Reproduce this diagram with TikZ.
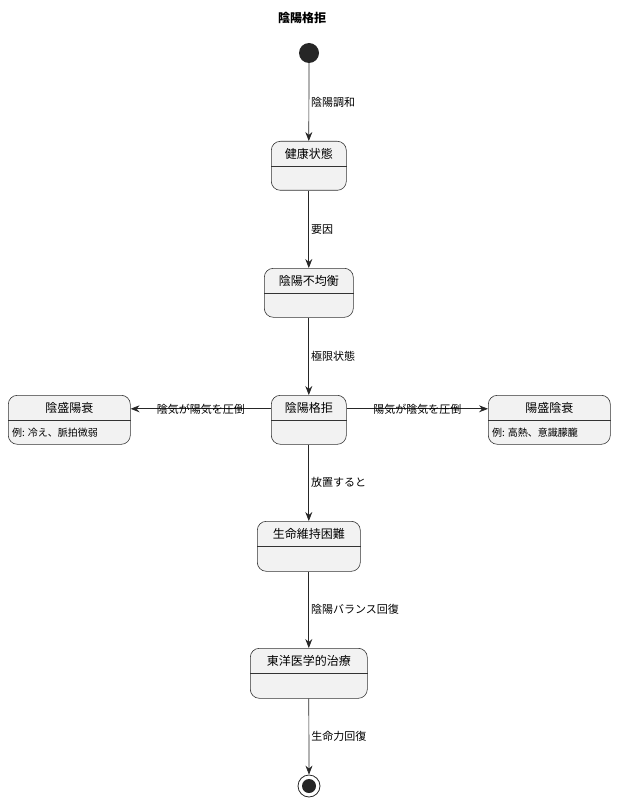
\documentclass[tikz,border=0pt]{standalone}
\usepackage{fontspec}
\setmainfont{Noto Sans CJK JP}
\usetikzlibrary{calc,arrows.meta}
\begin{document}
\begin{tikzpicture}[x=1pt,y=-1pt,
 st/.style={draw=black!80,fill=black!5,rounded corners=9pt,line width=0.6pt,anchor=north west,inner sep=0pt},
 lab/.style={font=\fontsize{11}{13}\selectfont,anchor=west,inner sep=0pt},
 hd/.style={font=\fontsize{12}{14}\selectfont,inner sep=0pt},
 ar/.style={draw=black!85,line width=0.7pt,-{Stealth[length=9pt,width=7pt,inset=3pt]}}]
\useasboundingbox (0,0) rectangle (616,802);
\node[font=\bfseries\fontsize{12}{14}\selectfont] (title) at (302,18) {陰陽格拒};
\node[circle,fill=black!85,minimum size=20pt,inner sep=0pt] (s) at (309,53) {};
\newcommand\state[6]{% name x1 y1 x2 y2 text
 \node[st,minimum width=#4-#2,minimum height=#5-#3] (#1) at (#2,#3) {};
 \draw[draw=black!80,line width=0.6pt] ($(#1.north west)+(0,25)$) -- ($(#1.north east)+(0,25)$);
 \node[hd] (#1t) at ($(#1.north)+(0,13)$) {#6};}
\state{a}{271}{141}{346}{190}{健康状態}
\state{b}{264}{268}{353}{317}{陰陽不均衡}
\state{c}{271}{395}{346}{444}{陰陽格拒}
\state{l}{8}{395}{130}{444}{陰盛陽衰}
\state{r}{488}{395}{610}{444}{陽盛陰衰}
\state{d}{257}{521}{360}{571}{生命維持困難}
\state{e}{250}{648}{367}{698}{東洋医学的治療}
\node[font=\fontsize{10}{12}\selectfont,anchor=west,inner sep=0pt] (lb) at (12,433) {例: 冷え、脈拍微弱};
\node[font=\fontsize{10}{12}\selectfont,anchor=west,inner sep=0pt] (rb) at (492,433) {例: 高熱、意識朦朧};
\node[circle,draw=black!85,line width=0.8pt,minimum size=22pt,inner sep=0pt] (z) at (309,786) {};
\node[circle,fill=black!85,minimum size=14pt,inner sep=0pt] (zi) at (309,786) {};
\draw[ar] (s) -- (a.north) node[lab,pos=0.5,xshift=2pt] {陰陽調和};
\draw[ar] (a.south) -- (b.north) node[lab,pos=0.5,xshift=2pt] {要因};
\draw[ar] (b.south) -- (c.north) node[lab,pos=0.5,xshift=2pt] {極限状態};
\draw[ar] (c.south) -- (d.north) node[lab,pos=0.5,xshift=2pt] {放置すると};
\draw[ar] (d.south) -- (e.north) node[lab,pos=0.5,xshift=2pt] {陰陽バランス回復};
\draw[ar] (e.south) -- (z.north) node[lab,pos=0.5,xshift=2pt] {生命力回復};
\draw[ar] ($(c.west)+(0,-11)$) -- ($(l.east)+(0,-11)$) node[lab,anchor=center,pos=0.5,yshift=-1pt] {陰気が陽気を圧倒};
\draw[ar] ($(c.east)+(0,-11)$) -- ($(r.west)+(0,-11)$) node[lab,anchor=center,pos=0.5,yshift=-1pt] {陽気が陰気を圧倒};
\end{tikzpicture}
\end{document}
